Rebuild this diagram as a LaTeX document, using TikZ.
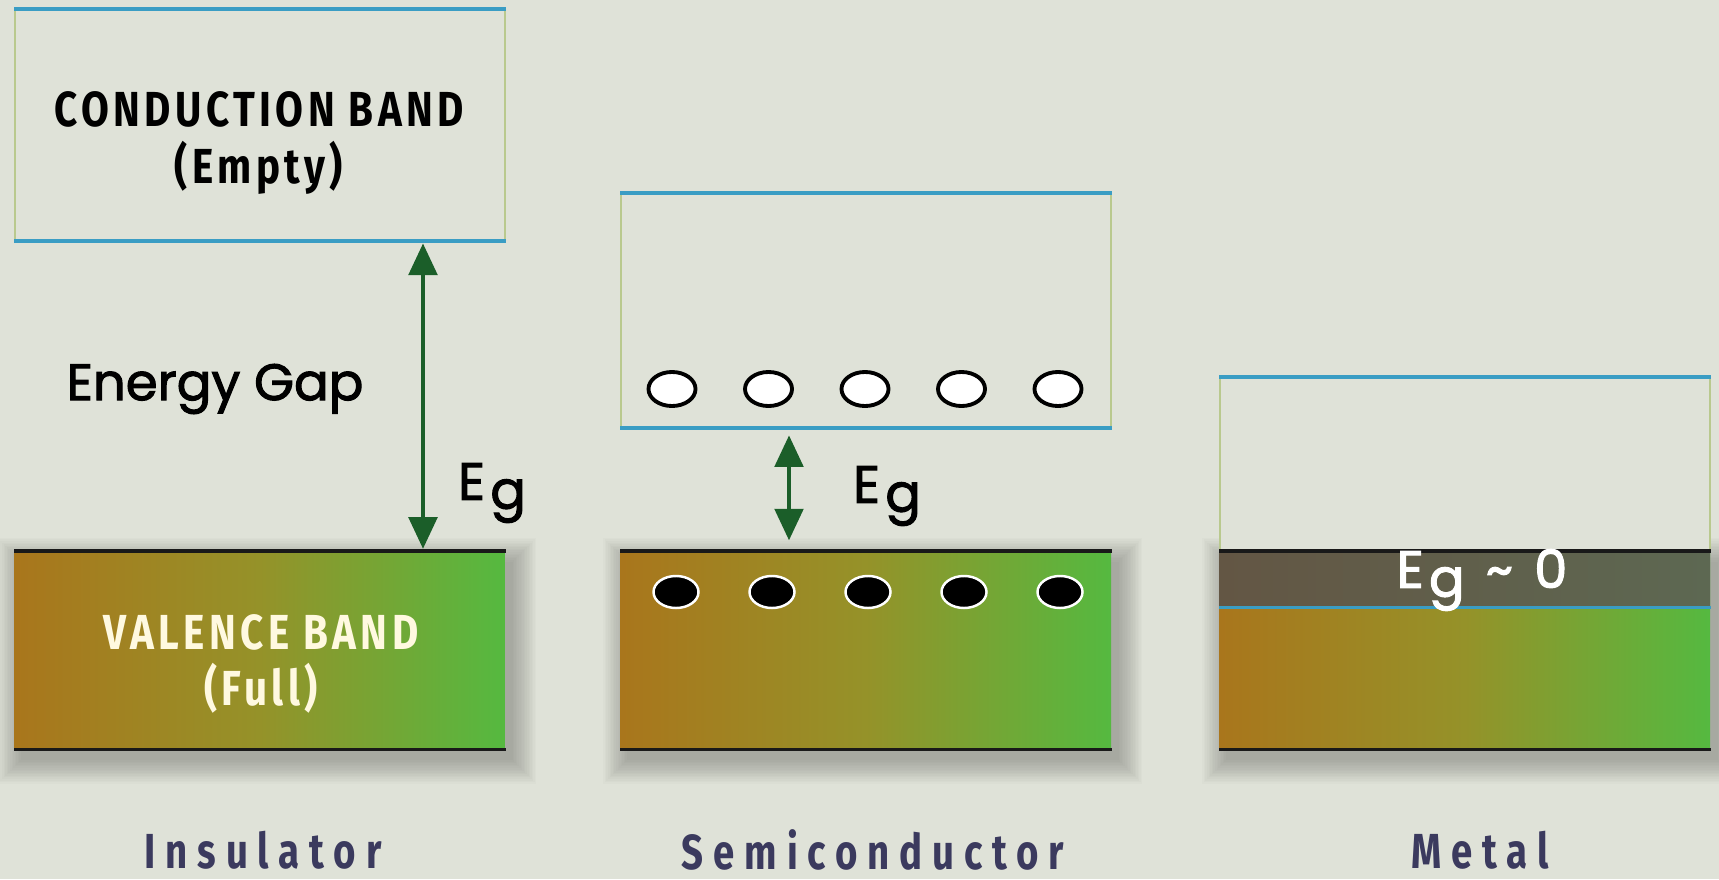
\documentclass[tikz,border=0pt]{standalone}
\usepackage{fontspec}
\setmainfont{Fira Sans}
\newfontfamily\bandfont[FakeStretch=0.82,LetterSpace=9]{Fira Sans}
\newfontfamily\namefont[FakeStretch=0.78,LetterSpace=20]{Fira Sans}
\newfontfamily\gapfont[FakeBold=2]{Poppins}
\usetikzlibrary{arrows.meta,shapes.geometric,positioning}
\definecolor{bgcol}{HTML}{DFE2D8}
\definecolor{bandblue}{HTML}{3A9DC4}
\definecolor{sidegreen}{HTML}{B9C98E}
\definecolor{vbleft}{HTML}{A9761C}
\definecolor{vbmid}{HTML}{959229}
\definecolor{vbright}{HTML}{55B940}
\definecolor{gapgreen}{HTML}{1B5E29}
\definecolor{labelnavy}{HTML}{3B3A5E}
\definecolor{creamtext}{HTML}{FFF9E0}
\definecolor{metalgapl}{HTML}{635644}
\definecolor{metalgapr}{HTML}{5D6852}
\pgfdeclarelayer{paper}
\pgfdeclarelayer{shade}
\pgfsetlayers{paper,shade,main}
\newcommand{\Eg}{E\kern1.5pt\raisebox{-0.3ex}{g}}
% soft shadow under a band node
\newcommand{\bandshadow}[1]{%
  \begin{pgfonlayer}{shade}
  \foreach \k in {0,...,15}
    \fill[black, opacity=0.017]
      ([xshift=2pt-\k*0.45pt, yshift=-3pt-\k*0.45pt]#1.south west) rectangle
      ([xshift=2pt+\k*0.45pt, yshift=-3pt+\k*0.45pt]#1.north east);
  \end{pgfonlayer}}
\tikzset{
  cband/.style={draw=sidegreen, line width=0.6pt, fill=bgcol, anchor=north west,
    inner sep=0pt, minimum width=4.9cm},
  vband/.style={anchor=north west, inner sep=0pt, minimum width=4.9cm,
    left color=vbleft, right color=vbright, middle color=vbmid},
  blueedge/.style={draw=bandblue, line width=1.1pt},
  blackedge/.style={draw=black!90, line width=1pt},
  gaparrow/.style={{Triangle[width=8pt,length=9pt]}-{Triangle[width=8pt,length=9pt]},
    draw=gapgreen, line width=1.4pt},
  hole/.style={ellipse, draw=black, line width=1.1pt, fill=white,
    minimum width=0.47cm, minimum height=0.34cm, inner sep=0pt},
  electron/.style={ellipse, draw=white, line width=0.7pt, fill=black,
    minimum width=0.45cm, minimum height=0.32cm, inner sep=0pt},
  bandtext/.style={font=\bandfont\bfseries\fontsize{14}{16}\selectfont, align=center},
  gaptext/.style={font=\gapfont\fontsize{14.6}{16}\selectfont},
  egtext/.style={font=\gapfont\fontsize{15}{17}\selectfont},
  nametext/.style={font=\namefont\bfseries\fontsize{14}{16}\selectfont, text=labelnavy}
}
\begin{document}
\begin{tikzpicture}[x=0.01cm, y=-0.01cm]
\begin{pgfonlayer}{paper}
\fill[bgcol] (0,0) rectangle (1719,879);
\end{pgfonlayer}
\useasboundingbox (0,0) rectangle (1719,879);

% insulator
\node[cband, minimum height=2.30cm] (icb) at (14,9) {};
\draw[blueedge] (icb.north west) -- (icb.north east);
\draw[blueedge] (icb.south west) -- (icb.south east);
\node[bandtext] (ictext) at (259,143) {CONDUCTION BAND\\(Empty)};
\node[vband, minimum height=1.97cm] (ivb) at (14,551) {};
\bandshadow{ivb}
\draw[blackedge] (ivb.north west) -- (ivb.north east);
\draw[blackedge] (ivb.south west) -- (ivb.south east);
\node[bandtext, text=creamtext] (ivtext) at (261,664) {VALENCE BAND\\(Full)};
\coordinate (igap) at (423,0);
\draw[gaparrow, shorten <=0.6pt, shorten >=0.6pt] (icb.south -| igap) -- (ivb.north -| igap);
\node[gaptext] (egap) at (215,389) {Energy Gap};
\node[egtext] (ieg) at (492,493) {\Eg};

% semiconductor
\node[cband, minimum height=2.33cm] (scb) at (620,193) {};
\draw[blueedge] (scb.north west) -- (scb.north east);
\draw[blueedge] (scb.south west) -- (scb.south east);
\node[vband, minimum height=1.97cm] (svb) at (620,551) {};
\bandshadow{svb}
\draw[blackedge] (svb.north west) -- (svb.north east);
\draw[blackedge] (svb.south west) -- (svb.south east);
\foreach \i in {0,...,4} {
  \node[hole] (h\i) at (672+96.5*\i,389) {};
  \node[electron] (e\i) at (676+96*\i,592) {};
}
\coordinate (sgap) at (789,0);
\draw[gaparrow, shorten <=2pt, shorten >=3pt] (scb.south -| sgap) -- (svb.north -| sgap);
\node[egtext] (seg) at (887,496) {\Eg};

% metal
\node[cband, minimum height=1.74cm] (mcb) at (1219,377) {};
\draw[blueedge] (mcb.north west) -- (mcb.north east);
\node[vband, minimum height=1.97cm] (mvb) at (1219,551) {};
\bandshadow{mvb}
\node[anchor=north west, inner sep=0pt, minimum width=4.9cm, minimum height=0.55cm,
  left color=metalgapl, right color=metalgapr] (mgap) at (1219,551) {};
\draw[blueedge] (mgap.south west) -- (mgap.south east);
\draw[blackedge] (mvb.north west) -- (mvb.north east);
\draw[blackedge] (mvb.south west) -- (mvb.south east);
\node[egtext, text=white] (meg) at (1482,580) {\Eg\kern6pt\textasciitilde\kern6pt0};

% names
\node[nametext] (ins) at (263,850) {Insulator};
\node[nametext] (semi) at (873,850) {Semiconductor};
\node[nametext] (met) at (1480,850) {Metal};
\end{tikzpicture}
\end{document}
